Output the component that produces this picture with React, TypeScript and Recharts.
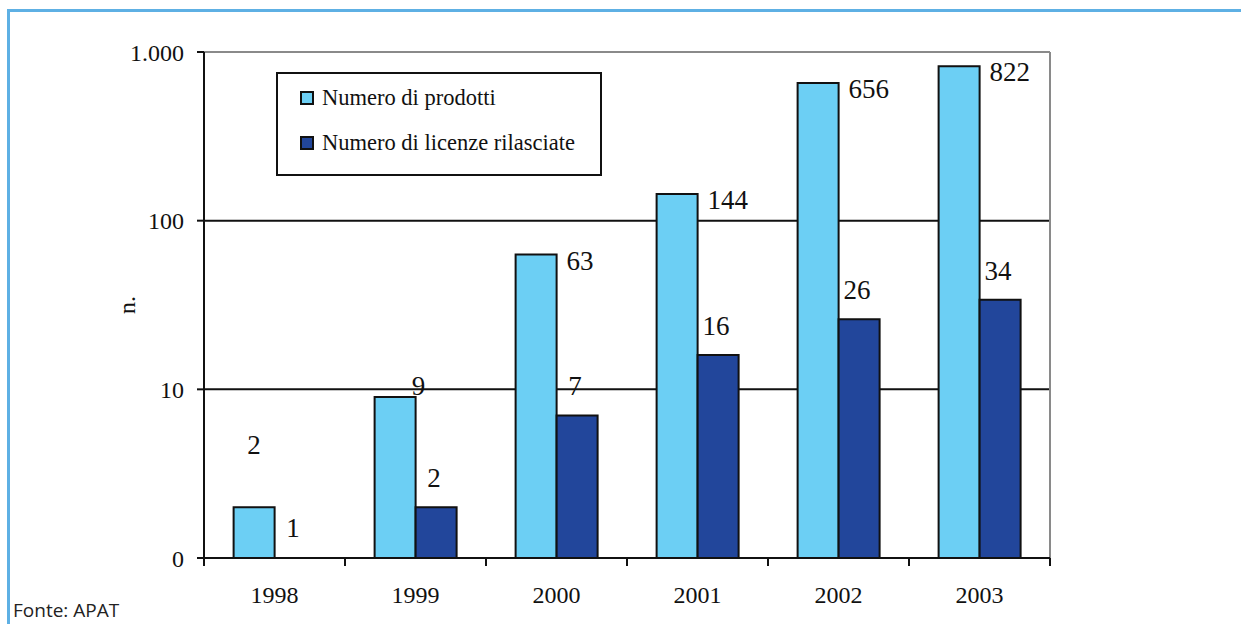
import { Bar, BarChart, CartesianGrid, LabelList, Legend, Rectangle, ReferenceLine, XAxis, YAxis } from "recharts";

const years = ["1998", "1999", "2000", "2001", "2002", "2003"];
const prodotti = [2, 9, 63, 144, 656, 822];
const licenze = [1, 2, 7, 16, 26, 34];
const yTicks = [1, 10, 100, 1000];
const yTickLabels = ["0", "10", "100", "1.000"];
const seriesNames = ["Numero di prodotti", "Numero di licenze rilasciate"];

const data = years.map((year, i) => ({ year, prodotti: prodotti[i], licenze: licenze[i] }));

const W = 1241;
const H = 624;
const MARGIN = { top: 52, right: 191, left: 124, bottom: 26 };
const PLOT_W = W - MARGIN.left - MARGIN.right - 80;
const BAND = PLOT_W / years.length;

const SERIF = "'Liberation Serif', serif";
const LIGHT = "#6ccff4";
const DARK = "#22469b";
const INK = "#111";

// excel put the first two light labels somewhere odd, the rest sit right of the bar top
const lightNudge = [
  { dx: 0, dy: -62, anchor: "middle", fromRight: false },
  { dx: 3, dy: -11, anchor: "middle", fromRight: true },
];

const labelStyle = { fontFamily: SERIF, fontSize: 27 };

function LightLabel(props: any) {
  const { x, y, width, value, index } = props;
  const n = lightNudge[index];
  let lx = x + width + 10;
  let ly = y + 6;
  let anchor = "start";
  if (n) {
    lx = n.fromRight ? x + width + n.dx : x + width / 2 + n.dx;
    ly = y + n.dy;
    anchor = n.anchor;
  }
  return (
    <text x={lx} y={ly} textAnchor={anchor} dominantBaseline="central" style={labelStyle} fill={INK}>
      {value}
    </text>
  );
}

function DarkLabel(props: any) {
  const { x, y, width, value } = props;
  return (
    <text x={x + width / 2 - 2} y={y - 29} textAnchor="middle" dominantBaseline="central" style={labelStyle} fill={INK}>
      {value}
    </text>
  );
}

// value 1 is the log base: keep the entry (so its label shows) but draw no rect
function DarkShape(props: any) {
  if (props.height <= 1) return null;
  return <Rectangle {...props} />;
}

function YearTick(props: any) {
  const { x, y, payload, index } = props;
  const half = BAND / 2;
  return (
    <g>
      <line x1={x - half} x2={x - half} y1={y - 8} y2={y} stroke={INK} strokeWidth={2} />
      {index === years.length - 1 && <line x1={x + half} x2={x + half} y1={y - 8} y2={y} stroke={INK} strokeWidth={2} />}
      <text x={x} y={y + 29} textAnchor="middle" dominantBaseline="central" style={{ fontFamily: SERIF, fontSize: 24 }} fill={INK}>
        {payload.value}
      </text>
    </g>
  );
}

function YLabel(props: any) {
  const vb = props.viewBox;
  const cx = vb.x + 3;
  const cy = vb.y + vb.height / 2;
  return (
    <text x={cx} y={cy} transform={`rotate(-90 ${cx} ${cy})`} textAnchor="middle" dominantBaseline="central" style={{ fontFamily: SERIF, fontSize: 24 }} fill={INK}>
      n.
    </text>
  );
}

function LegendBox() {
  const colors = [LIGHT, DARK];
  return (
    <div style={{ position: "relative", width: 326, height: 104, border: `2px solid ${INK}`, boxSizing: "border-box", fontFamily: SERIF, fontSize: 22.5, color: INK }}>
      {seriesNames.map((name, i) => (
        <div key={name} style={{ position: "absolute", left: 22, top: 12 + i * 45, height: 24, lineHeight: "24px", display: "flex", alignItems: "center", whiteSpace: "nowrap" }}>
          <span style={{ width: 14, height: 14, background: colors[i], border: `2px solid ${INK}`, marginRight: 8, boxSizing: "border-box" }} />
          <span>{name}</span>
        </div>
      ))}
    </div>
  );
}

export default function App() {
  return (
    <div style={{ position: "fixed", inset: 0, overflow: "hidden", background: "#fff" }}>
      <div style={{ position: "absolute", left: 7, top: 9, width: 1300, height: 700, borderLeft: "3px solid #5eb0e4", borderTop: "3px solid #5eb0e4" }} />
      <div style={{ position: "absolute", left: 0, top: 0 }}>
        <BarChart width={W} height={H} data={data} margin={MARGIN} barCategoryGap="21%" barGap={0}>
          <CartesianGrid vertical={false} stroke={INK} strokeWidth={2} />
          <ReferenceLine y={1000} stroke="#8a8a8a" strokeWidth={2} />
          <ReferenceLine x="2003" position="end" stroke="#8a8a8a" strokeWidth={2} />
          <XAxis
            dataKey="year"
            height={40}
            axisLine={{ stroke: INK, strokeWidth: 2 }}
            tickLine={false}
            tickSize={8}
            tickMargin={0}
            tick={<YearTick />}
            interval={0}
          />
          <YAxis
            scale="log"
            domain={[1, 1000]}
            ticks={yTicks}
            width={80}
            axisLine={{ stroke: INK, strokeWidth: 2 }}
            tickLine={{ stroke: INK, strokeWidth: 2 }}
            tickSize={7}
            tickMargin={13}
            tickFormatter={(v: number) => yTickLabels[yTicks.indexOf(v)]}
            tick={{ fontFamily: SERIF, fontSize: 24, fill: INK }}
            label={<YLabel />}
          />
          <Legend
            layout="vertical"
            align="center"
            verticalAlign="middle"
            wrapperStyle={{ left: 276, top: 72, width: 326 }}
            content={<LegendBox />}
          />
          <Bar dataKey="prodotti" name={seriesNames[0]} fill={LIGHT} stroke={INK} strokeWidth={2} isAnimationActive={false}>
            <LabelList dataKey="prodotti" content={<LightLabel />} />
          </Bar>
          <Bar dataKey="licenze" name={seriesNames[1]} fill={DARK} stroke={INK} strokeWidth={2} minPointSize={1} shape={<DarkShape />} isAnimationActive={false}>
            <LabelList dataKey="licenze" content={<DarkLabel />} />
          </Bar>
        </BarChart>
      </div>
      <div style={{ position: "absolute", left: 13, top: 599, lineHeight: "22px", fontFamily: "'Open Sans', sans-serif", fontSize: 19, color: "#222" }}>
        Fonte: APAT
      </div>
    </div>
  );
}
